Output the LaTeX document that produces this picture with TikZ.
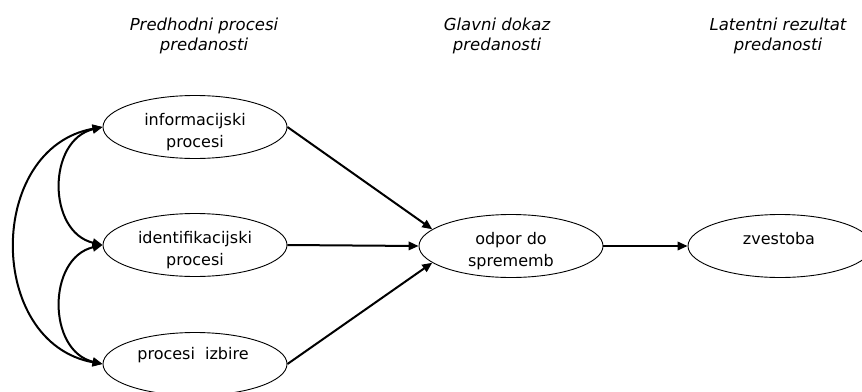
\documentclass[tikz,border=0pt]{standalone}
\usepackage{fontspec}
\setmainfont{DejaVu Sans}
\usetikzlibrary{arrows.meta,calc,shapes.geometric}
\begin{document}
\begin{tikzpicture}[x=1pt,y=-1pt,
  proc/.style={draw, ellipse, line width=0.9pt, minimum width=184pt, minimum height=63pt, inner sep=0pt},
  lbl/.style={font=\fontsize{16}{22}\selectfont, align=center, inner sep=0pt},
  head/.style={font=\fontsize{16.5}{20}\selectfont\itshape, align=center, inner sep=0pt},
  tip/.tip={Triangle[length=10pt,width=8.5pt]},
  link/.style={line width=2pt, -tip},
  both/.style={line width=2pt, tip-tip}]
\useasboundingbox (0,0) rectangle (862,391);
\clip (0,0) rectangle (862,391);

% column headings
\node[head] (h1) at (204,35.7) {Predhodni procesi\\predanosti};
\node[head] (h2) at (497,35.7) {Glavni dokaz\\predanosti};
\node[head] (h3) at (778,35.7) {Latentni rezultat\\predanosti};

% ellipses
\node[proc] (inf) at (195,127) {};
\node[proc] (idn) at (195,245) {};
\node[proc] (izb) at (195,364) {};
\node[proc] (odp) at (511,246) {};
\node[proc] (zve) at (780,246) {};

% their texts
\node[lbl] (inf-t) at ($(inf)+(0,4.8)$) {informacijski\\procesi};
\node[lbl] (idn-t) at ($(idn)+(0,4.8)$) {identifikacijski\\procesi};
\node[lbl, anchor=base] (izb-t) at (193,359) {procesi\ \ izbire};
\node[lbl] (odp-t) at ($(odp)+(0,4.8)$) {odpor do\\sprememb};
\node[lbl, anchor=base] (zve-t) at (779,244) {zvestoba};

% paths into the main construct
\draw[link] (inf.east) -- (odp.168);
\draw[link] (idn.east) -- (odp.west);
\draw[link] (izb.east) -- (odp.192);
\draw[link] (odp.east) -- (zve.west);

% correlations among the antecedents
\draw[both] (inf.west) .. controls (47,140) and (47,232) .. (idn.west);
\draw[both] (idn.west) .. controls (47,258) and (47,351) .. (izb.west);
\draw[both] (inf.west) .. controls (-14,148) and (-14,343) .. (izb.west);
\end{tikzpicture}
\end{document}
